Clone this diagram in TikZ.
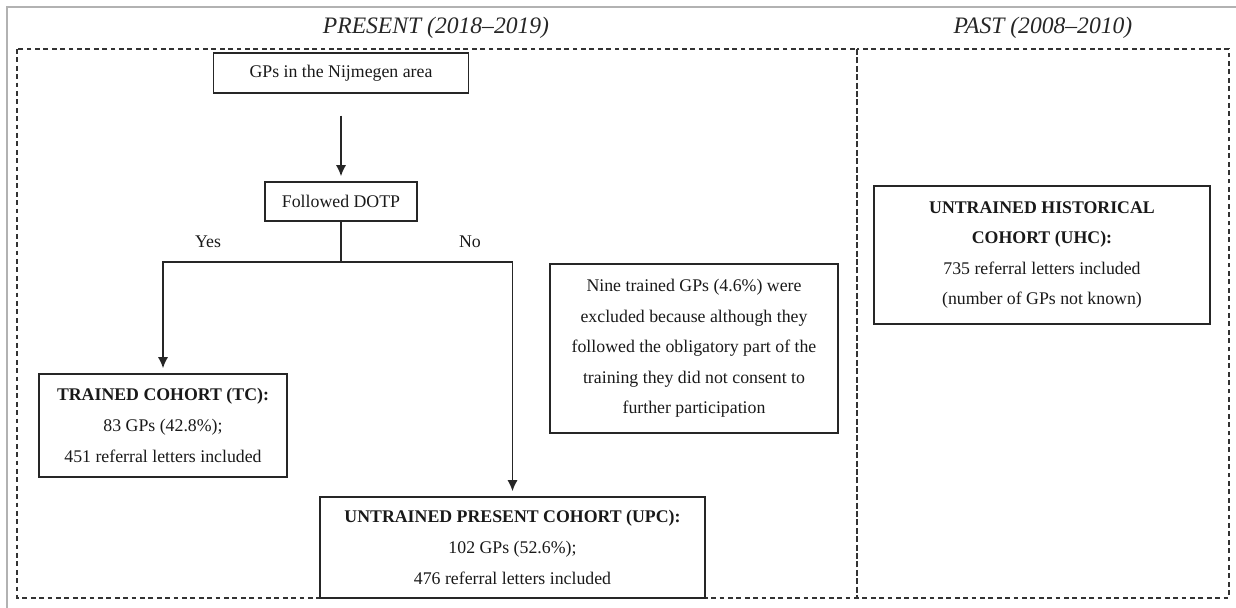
\documentclass[tikz,border=0pt]{standalone}
\usepackage{fontspec}
\setmainfont{Liberation Serif}
\usetikzlibrary{arrows.meta}
\begin{document}
\begin{tikzpicture}[x=0.5pt,y=-0.5pt,
  box/.style={draw=black!85,line width=0.75pt,align=center,inner sep=0pt,text=black!90,font=\fontsize{8.9}{15.3}\selectfont},
  frame/.style={draw=black!80,line width=0.7pt,dash pattern=on 2.4pt off 1.8pt},
  period/.style={font=\fontsize{11.8}{14}\selectfont\itshape,text=black!85},
  arr/.style={draw=black!85,line width=0.75pt,-{Latex[length=5.5pt,width=5pt]},shorten >=2.5pt}]
\useasboundingbox (0,0) rectangle (1236,608);
\path[draw=black!30,line width=1.3pt] (7,608) -- (7,7) -- (1236,7);
\path[frame] (17,49) rectangle (857,598);
\path[frame] (857,49) rectangle (1229,598);
\node[period] (present) at (436,28) {PRESENT (2018--2019)};
\node[period] (past) at (1043,28) {PAST (2008--2010)};

\node[box,minimum width=127.5pt,minimum height=20pt] (gps) at (341,73) {GPs in the Nijmegen area};
\node[box,minimum width=76pt,minimum height=19.5pt] (dotp) at (341,201.5) {Followed DOTP};
\node[box,minimum width=124pt,minimum height=51.5pt] (tc) at (163,425.5) {\textbf{TRAINED COHORT (TC):}\\83 GPs (42.8\%);\\451 referral letters included};
\node[box,minimum width=192.5pt,minimum height=50.5pt] (upc) at (512.5,547.5) {\textbf{UNTRAINED PRESENT COHORT (UPC):}\\102 GPs (52.6\%);\\476 referral letters included};
\node[box,minimum width=144pt,minimum height=84.5pt] (nine) at (694,348.5) {Nine trained GPs (4.6\%) were\\excluded because although they\\followed the obligatory part of the\\training they did not consent to\\further participation};
\node[box,minimum width=168pt,minimum height=69pt] (uhc) at (1042,255) {\textbf{UNTRAINED HISTORICAL}\\\textbf{COHORT (UHC):}\\735 referral letters included\\(number of GPs not known)};
\coordinate (split) at (341,262);
\node[box,draw=none] (yes) at (208,242) {Yes};
\node[box,draw=none] (no) at (470,242) {No};

\path[arr,shorten <=11pt] (gps) -- (dotp);
\path[draw=black!85,line width=0.75pt] (dotp) -- (split);
\path[arr] (split) -| (tc);
\path[arr] (split) -| (upc);
\end{tikzpicture}
\end{document}
